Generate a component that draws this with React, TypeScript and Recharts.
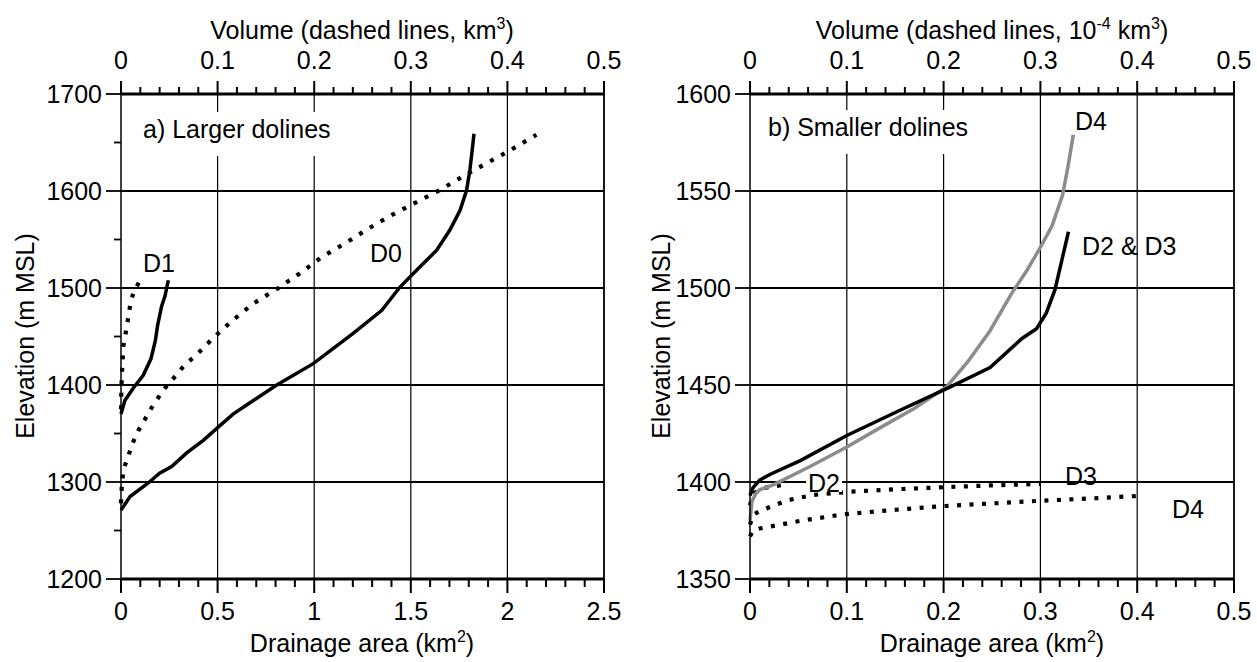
import React from 'react';
import { LineChart, Line, XAxis, YAxis, ReferenceLine } from 'recharts';

const FONT = '"Liberation Sans", Arial, Helvetica, sans-serif';
const FS = 25;

// ---------- Panel a) Larger dolines ----------
const areaTicksA = [0, 0.1, 0.2, 0.3, 0.4, 0.5, 0.6, 0.7, 0.8, 0.9, 1, 1.1, 1.2, 1.3, 1.4, 1.5, 1.6, 1.7, 1.8, 1.9, 2, 2.1, 2.2, 2.3, 2.4, 2.5];
const areaMajorA = [0, 0.5, 1, 1.5, 2, 2.5];
const volTicks = [0, 0.02, 0.04, 0.06, 0.08, 0.1, 0.12, 0.14, 0.16, 0.18, 0.2, 0.22, 0.24, 0.26, 0.28, 0.3, 0.32, 0.34, 0.36, 0.38, 0.4, 0.42, 0.44, 0.46, 0.48, 0.5];
const volMajor = [0, 0.1, 0.2, 0.3, 0.4, 0.5];
const elevTicksA = [1200, 1250, 1300, 1350, 1400, 1450, 1500, 1550, 1600, 1650, 1700];
const elevMajorA = [1200, 1300, 1400, 1500, 1600, 1700];
const gridXA = [0.5, 1, 1.5, 2];
const gridYA = [1300, 1400, 1500, 1600];

const d0Area: [number, number][] = [
  [0, 1271], [0.047, 1285], [0.141, 1299], [0.2, 1309], [0.262, 1316], [0.34, 1330], [0.426, 1343],
  [0.5, 1356], [0.58, 1370], [0.685, 1384], [0.806, 1400], [0.995, 1422], [1.2, 1453], [1.35, 1477],
  [1.444, 1501], [1.513, 1515], [1.634, 1539], [1.703, 1560], [1.755, 1580], [1.789, 1601],
  [1.806, 1622], [1.82, 1646], [1.827, 1659],
];
const d0Vol: [number, number][] = [
  [0, 1278], [0.001, 1300], [0.003, 1314], [0.0076, 1327], [0.012, 1340], [0.018, 1353], [0.025, 1365],
  [0.032, 1377], [0.04, 1389], [0.048, 1400], [0.058, 1411], [0.066, 1421], [0.077, 1430], [0.087, 1440],
  [0.097, 1450], [0.116, 1467], [0.137, 1484], [0.163, 1500], [0.185, 1515], [0.208, 1532], [0.232, 1546],
  [0.254, 1560], [0.278, 1574], [0.301, 1586], [0.33, 1601], [0.354, 1615], [0.379, 1629], [0.403, 1642],
  [0.43, 1658],
];
const d1Area: [number, number][] = [
  [0, 1370], [0.02, 1384], [0.064, 1397], [0.115, 1410], [0.155, 1427], [0.178, 1446], [0.19, 1462],
  [0.21, 1481], [0.228, 1492], [0.245, 1508],
];
const d1Vol: [number, number][] = [
  [0, 1375], [0.0005, 1400], [0.001, 1412], [0.0024, 1440], [0.006, 1460], [0.0093, 1481],
  [0.0127, 1495], [0.0197, 1508],
];

// ---------- Panel b) Smaller dolines ----------
const areaTicksB = [0, 0.02, 0.04, 0.06, 0.08, 0.1, 0.12, 0.14, 0.16, 0.18, 0.2, 0.22, 0.24, 0.26, 0.28, 0.3, 0.32, 0.34, 0.36, 0.38, 0.4, 0.42, 0.44, 0.46, 0.48, 0.5];
const areaMajorB = [0, 0.1, 0.2, 0.3, 0.4, 0.5];
const elevTicksB = [1350, 1400, 1450, 1500, 1550, 1600];
const gridXB = [0.1, 0.2, 0.3, 0.4];
const gridYB = [1400, 1450, 1500, 1550];

const d4Area: [number, number][] = [
  [0, 1380], [0.002, 1390], [0.006, 1394], [0.01, 1396], [0.024, 1398.5], [0.062, 1408], [0.1, 1418],
  [0.131, 1427], [0.17, 1438], [0.203, 1449], [0.225, 1462], [0.248, 1478], [0.27, 1497], [0.286, 1509],
  [0.3, 1521], [0.312, 1532], [0.323, 1548], [0.329, 1564], [0.334, 1579],
];
const d23Area: [number, number][] = [
  [0, 1393], [0.003, 1397], [0.01, 1401], [0.021, 1404], [0.052, 1411], [0.1, 1424], [0.155, 1437],
  [0.207, 1449], [0.248, 1459], [0.281, 1474], [0.296, 1479], [0.306, 1487], [0.315, 1499],
  [0.322, 1514], [0.329, 1529],
];
const d2Vol: [number, number][] = [[0, 1388], [0.003, 1394], [0.015, 1397], [0.04, 1399]];
const d3Vol: [number, number][] = [
  [0, 1378], [0.003, 1383], [0.01, 1385], [0.038, 1390.5], [0.065, 1393.3], [0.103, 1395],
  [0.148, 1396.2], [0.2, 1397.3], [0.251, 1398.3], [0.3, 1399],
];
const d4Vol: [number, number][] = [
  [0, 1372], [0.003, 1375], [0.01, 1376], [0.052, 1380], [0.096, 1383.3], [0.148, 1385.6], [0.2, 1387.6],
  [0.251, 1389], [0.303, 1390.4], [0.355, 1391.6], [0.4, 1392.8],
];

const pts = (a: [number, number][]) => a.map(([x, y]) => ({ x, y }));
const isIn = (arr: number[], v: number) => arr.some((m) => Math.abs(m - v) < 1e-6);

const xTick = (majors: number[], dir: 1 | -1, majorLen: number, minorLen: number, labelDy: number) =>
  (props: any) => {
    const { x, y, payload } = props;
    const v = payload.value;
    const major = isIn(majors, v);
    return (
      <g>
        <path d={`M${x},${y}L${x},${y + dir * (major ? majorLen : minorLen)}`} stroke="#000" strokeWidth={2} />
        {major && (
          <text x={x} y={y + labelDy} textAnchor="middle" fontFamily={FONT} fontSize={FS} fill="#000">
            {String(v)}
          </text>
        )}
      </g>
    );
  };

const yTick = (majors: number[], majorLen: number, minorLen: number) => (props: any) => {
  const { x, y, payload } = props;
  const v = payload.value;
  const major = isIn(majors, v);
  return (
    <g>
      <path d={`M${x},${y}L${x - (major ? majorLen : minorLen)},${y}`} stroke="#000" strokeWidth={1.8} />
      {major && (
        <text x={x - 19} y={y + 9} textAnchor="end" fontFamily={FONT} fontSize={FS} fill="#000">
          {String(v)}
        </text>
      )}
    </g>
  );
};

const solid = { type: 'linear' as const, dot: false, activeDot: false, isAnimationActive: false, strokeWidth: 3.5 };
const dotted = { ...solid, strokeWidth: 4.2, strokeDasharray: '4 8.5' };

export default function App() {
  return (
    <div style={{ position: 'absolute', left: 0, top: 0, width: 1257, height: 662, background: '#fff', overflow: 'hidden' }}>
      <div style={{ position: 'absolute', left: 0, top: 0 }}>
        <LineChart width={630} height={662} margin={{ top: 0, right: 26, bottom: 0, left: 0 }}>
          <XAxis xAxisId="area" type="number" dataKey="x" domain={[0, 2.5]} ticks={areaTicksA} interval={0}
            orientation="bottom" height={83} tickSize={0} tickMargin={0} minTickGap={0}
            axisLine={{ stroke: '#000', strokeWidth: 3 }} tickLine={false} tick={xTick(areaMajorA, 1, 14, 8, 41)} />
          <XAxis xAxisId="vol" type="number" dataKey="x" domain={[0, 0.5]} ticks={volTicks} interval={0}
            orientation="top" height={94} tickSize={0} tickMargin={0} minTickGap={0}
            axisLine={{ stroke: '#000', strokeWidth: 3 }} tickLine={false} tick={xTick(volMajor, -1, 13, 7, -25)} />
          <YAxis type="number" domain={[1200, 1700]} ticks={elevTicksA} interval={0} width={121}
            tickSize={0} tickMargin={0} minTickGap={0} axisLine={{ stroke: '#000', strokeWidth: 1.5 }} tickLine={false}
            tick={yTick(elevMajorA, 15, 7)} />
          {gridXA.map((v) => (
            <ReferenceLine key={'gx' + v} xAxisId="area" x={v} stroke="#000" strokeWidth={1.2} />
          ))}
          {gridYA.map((v) => (
            <ReferenceLine key={'gy' + v} xAxisId="area" y={v} stroke="#000" strokeWidth={1.8} />
          ))}
          <ReferenceLine xAxisId="area" x={2.5} stroke="#000" strokeWidth={1.8} />
          <Line xAxisId="vol" data={pts(d0Vol)} dataKey="y" stroke="#000" {...dotted} />
          <Line xAxisId="vol" data={pts(d1Vol)} dataKey="y" stroke="#000" {...dotted} />
          <Line xAxisId="area" data={pts(d0Area)} dataKey="y" stroke="#000" {...solid} />
          <Line xAxisId="area" data={pts(d1Area)} dataKey="y" stroke="#000" {...solid} />
        </LineChart>
      </div>
      <div style={{ position: 'absolute', left: 630, top: 0 }}>
        <LineChart width={627} height={662} margin={{ top: 0, right: 23, bottom: 0, left: 0 }}>
          <XAxis xAxisId="area" type="number" dataKey="x" domain={[0, 0.5]} ticks={areaTicksB} interval={0}
            orientation="bottom" height={83} tickSize={0} tickMargin={0} minTickGap={0}
            axisLine={{ stroke: '#000', strokeWidth: 3 }} tickLine={false} tick={xTick(areaMajorB, 1, 14, 8, 41)} />
          <XAxis xAxisId="vol" type="number" dataKey="x" domain={[0, 0.5]} ticks={volTicks} interval={0}
            orientation="top" height={94} tickSize={0} tickMargin={0} minTickGap={0}
            axisLine={{ stroke: '#000', strokeWidth: 3 }} tickLine={false} tick={xTick(volMajor, -1, 13, 7, -25)} />
          <YAxis type="number" domain={[1350, 1600]} ticks={elevTicksB} interval={0} width={120}
            tickSize={0} tickMargin={0} minTickGap={0} axisLine={{ stroke: '#000', strokeWidth: 1.5 }} tickLine={false}
            tick={yTick(elevTicksB, 15, 7)} />
          {gridXB.map((v) => (
            <ReferenceLine key={'gx' + v} xAxisId="area" x={v} stroke="#000" strokeWidth={1.2} />
          ))}
          {gridYB.map((v) => (
            <ReferenceLine key={'gy' + v} xAxisId="area" y={v} stroke="#000" strokeWidth={1.8} />
          ))}
          <ReferenceLine xAxisId="area" x={0.5} stroke="#000" strokeWidth={1.8} />
          <Line xAxisId="vol" data={pts(d2Vol)} dataKey="y" stroke="#000" {...dotted} />
          <Line xAxisId="vol" data={pts(d3Vol)} dataKey="y" stroke="#000" {...dotted} />
          <Line xAxisId="vol" data={pts(d4Vol)} dataKey="y" stroke="#000" {...dotted} />
          <Line xAxisId="area" data={pts(d4Area)} dataKey="y" stroke="#8c8c8c" {...solid} />
          <Line xAxisId="area" data={pts(d23Area)} dataKey="y" stroke="#000" {...solid} />
        </LineChart>
      </div>
      <svg width={1257} height={662} style={{ position: 'absolute', left: 0, top: 0, pointerEvents: 'none' }}
        fontFamily={FONT} fontSize={FS} fill="#000">
        {/* axis titles */}
        <text x={362} y={39} textAnchor="middle">
          Volume (dashed lines, km<tspan dy={-10} fontSize={16}>3</tspan><tspan dy={10}>)</tspan>
        </text>
        <text x={362} y={652} textAnchor="middle">
          Drainage area (km<tspan dy={-10} fontSize={16}>2</tspan><tspan dy={10}>)</tspan>
        </text>
        <text transform="translate(34,336) rotate(-90)" textAnchor="middle">Elevation (m MSL)</text>

        <text x={992} y={39} textAnchor="middle">
          Volume (dashed lines, 10<tspan dy={-10} fontSize={16}>-4</tspan><tspan dy={10}> km</tspan><tspan dy={-10} fontSize={16}>3</tspan><tspan dy={10}>)</tspan>
        </text>
        <text x={992} y={652} textAnchor="middle">
          Drainage area (km<tspan dy={-10} fontSize={16}>2</tspan><tspan dy={10}>)</tspan>
        </text>
        <text transform="translate(670,336) rotate(-90)" textAnchor="middle">Elevation (m MSL)</text>

        {/* panel labels with white boxes */}
        <rect x={138} y={112} width={212} height={44} fill="#fff" />
        <text x={143} y={138}>a) Larger dolines</text>
        <rect x={763} y={110} width={224} height={44} fill="#fff" />
        <text x={768} y={136}>b) Smaller dolines</text>

        {/* curve labels */}
        <text x={143} y={272}>D1</text>
        <text x={370} y={262}>D0</text>
        <text x={1075} y={130}>D4</text>
        <text x={1082} y={255}>D2 &amp; D3</text>
        <rect x={806} y={476} width={36} height={16} fill="#fff" />
        <text x={808} y={492}>D2</text>
        <text x={1065} y={485}>D3</text>
        <text x={1172} y={518}>D4</text>
      </svg>
    </div>
  );
}
